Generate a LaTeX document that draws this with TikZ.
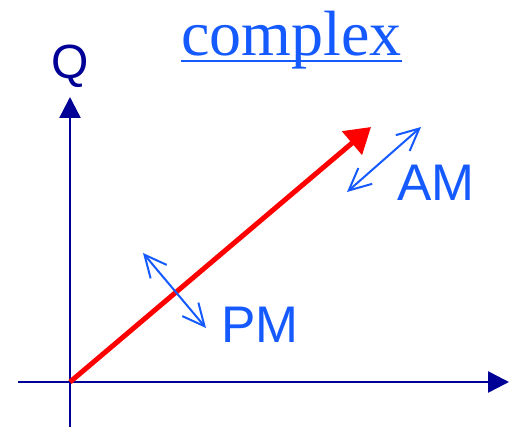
\documentclass[tikz,border=0pt]{standalone}
\usepackage{fontspec}
\setmainfont{Liberation Sans}
\newfontfamily\titlefont{Liberation Serif}
\usepackage{xcolor}
\usetikzlibrary{arrows.meta,positioning}
\definecolor{axisblue}{RGB}{0,0,150}
\definecolor{lightblue}{RGB}{20,90,255}

\begin{document}
\begin{tikzpicture}[x=1pt,y=-1pt,
  axis/.style={axisblue,line width=2.5pt,-{Triangle[length=21pt,width=21pt]}},
  signal/.style={red,line width=5pt,-{Triangle[length=25pt,width=30pt]}},
  modul/.style={lightblue,line width=2pt,{Straight Barb[length=22pt,width=21pt]}-{Straight Barb[length=22pt,width=21pt]}},
  lab/.style={lightblue,inner sep=0pt,anchor=base west,font=\fontsize{51.5}{60}\selectfont}]
\useasboundingbox (0,0) rectangle (528,427);
% axes
\coordinate (O) at (70,382);
\coordinate (xL) at (18,382);
\coordinate (xR) at (509,382);
\coordinate (yB) at (70,427);
\coordinate (yT) at (70,97);
\draw[axis] (xL) -- (xR);
\draw[axis] (yB) -- (yT);
\node[axisblue,inner sep=0pt,anchor=base,font=\fontsize{48}{55}\selectfont] (Q) at (70,79) {Q};
% title
\node[lightblue,inner sep=0pt,anchor=base west,font=\titlefont\fontsize{64}{75}\selectfont] (title) at (181,56) {complex};
\draw[lightblue,line width=2pt] ([yshift=-5pt]title.base west) -- ([yshift=-5pt]title.base east);
% signal vector
\coordinate (S) at (371,127);
\draw[signal] (O) -- (S);
% modulation arrows
\coordinate (amA) at (347,192);
\coordinate (amB) at (421,127);
\coordinate (pmA) at (143,253);
\coordinate (pmB) at (206,328);
\draw[modul] (amA) -- (amB);
\draw[modul] (pmA) -- (pmB);
\node[lab] (AM) at (397,201) {AM};
\node[lab] (PM) at (221,343) {PM};
\end{tikzpicture}
\end{document}
